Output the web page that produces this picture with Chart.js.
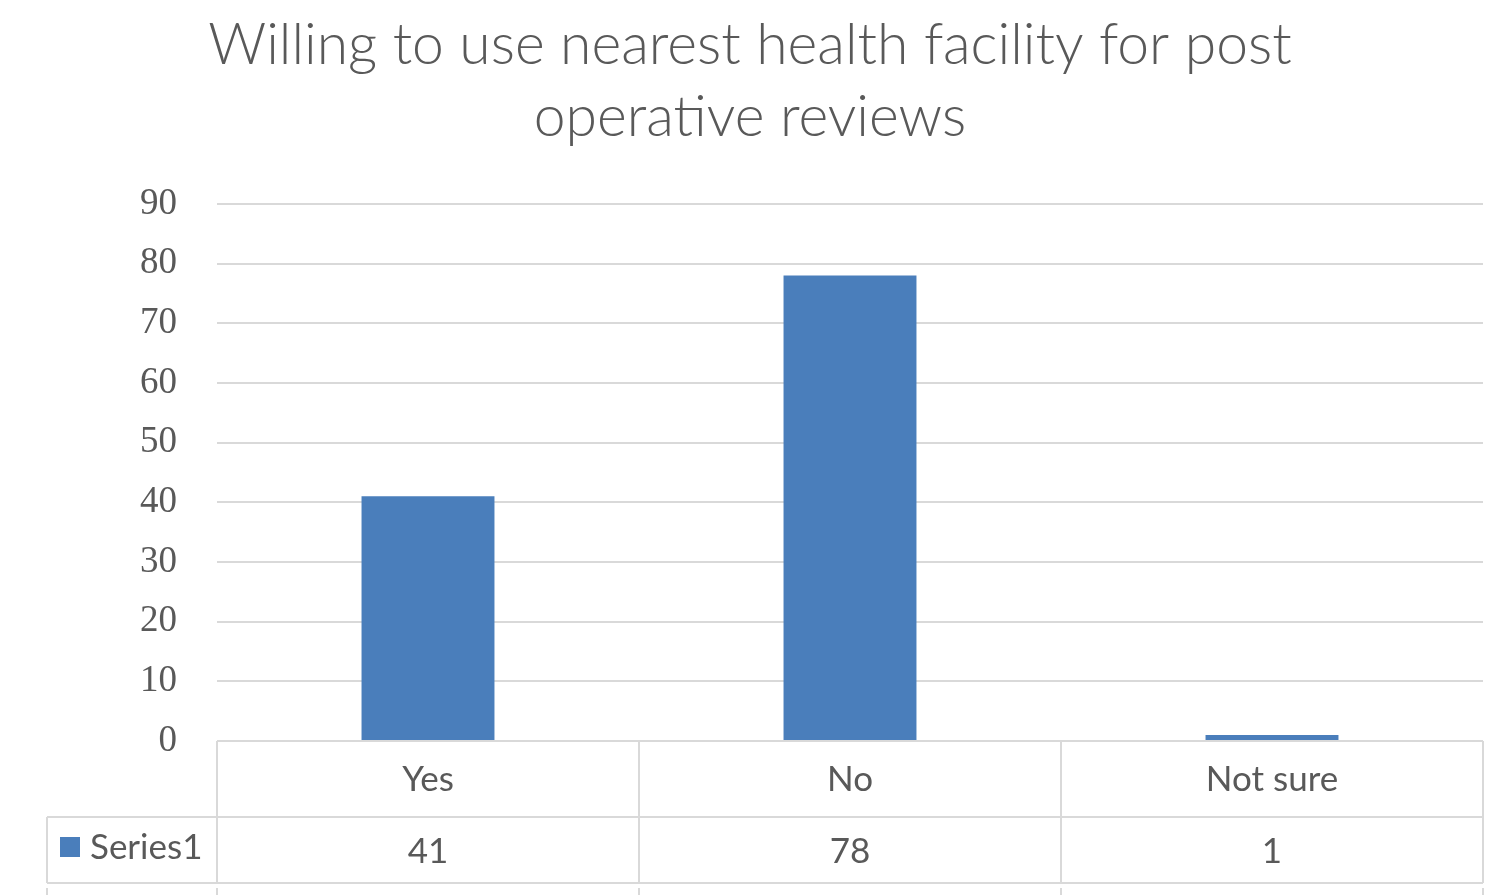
<!DOCTYPE html>
<html>
<head>
<meta charset="utf-8">
<script src="https://cdn.jsdelivr.net/npm/chart.js@4"></script>
<style>
  html, body { margin: 0; padding: 0; background: #ffffff; }
  canvas { display: block; }
</style>
</head>
<body>
<canvas id="chart" width="1500" height="895"></canvas>
<script>
const CATEGORIES = ['Yes', 'No', 'Not sure'];
const SERIES_NAME = 'Series1';
const SERIES_VALUES = [41, 78, 1];
const Y_TICKS = [0, 10, 20, 30, 40, 50, 60, 70, 80, 90];
const TITLE_LINES = ['Willing to use nearest health facility for post', 'operative reviews'];

const BAR_COLOR = '#4a7ebb';
const GRID_COLOR = '#d9d9d9';
const TEXT_COLOR = '#595959';
const SANS = 'Lato, "Open Sans", sans-serif';

// title is drawn by hand so it centres on the whole picture, not the chart box
const titlePlugin = {
    id: 'pageTitle',
    afterDraw(chart) {
        var ctx = chart.ctx;
        ctx.save();
        ctx.fillStyle = TEXT_COLOR;
        ctx.textAlign = 'center';
        ctx.textBaseline = 'middle';
        ctx.font = '300 57px ' + SANS;
        TITLE_LINES.forEach((line, i) => {
            ctx.fillText(line, 750, 46 + i * 72);
        });
        ctx.restore();
    }
};

// draws the data table under the plot, like the spreadsheet chart
const dataTablePlugin = {
    id: 'dataTable',
    afterDraw(chart) {
        var ctx = chart.ctx;
        var area = chart.chartArea;
        var xScale = chart.scales.x;
        var top = area.bottom;
        var mid = top + 76;
        var bottom = mid + 66;
        var left = 47;
        var step = xScale.getPixelForValue(1) - xScale.getPixelForValue(0);
        var edges = [area.left];
        CATEGORIES.forEach((c, i) => {
            edges.push(xScale.getPixelForValue(i) + step / 2);
        });
        edges[edges.length - 1] = area.right;

        ctx.save();
        ctx.strokeStyle = GRID_COLOR;
        ctx.lineWidth = 2;
        ctx.beginPath();
        ctx.moveTo(area.left, top); ctx.lineTo(area.right, top);
        ctx.moveTo(left, mid); ctx.lineTo(area.right, mid);
        ctx.moveTo(left, bottom); ctx.lineTo(area.right, bottom);
        edges.forEach(x => {
            ctx.moveTo(x, top); ctx.lineTo(x, bottom);
            ctx.moveTo(x, bottom + 5); ctx.lineTo(x, bottom + 12);
        });
        ctx.moveTo(left, mid); ctx.lineTo(left, bottom);
        ctx.moveTo(left, bottom + 5); ctx.lineTo(left, bottom + 12);
        ctx.stroke();

        ctx.fillStyle = TEXT_COLOR;
        ctx.textAlign = 'center';
        ctx.textBaseline = 'middle';
        ctx.font = '35px ' + SANS;
        CATEGORIES.forEach((c, i) => {
            var cx = xScale.getPixelForValue(i);
            ctx.fillText(c, cx, (top + mid) / 2 + 1);
            ctx.fillText(String(SERIES_VALUES[i]), cx, (mid + bottom) / 2 + 2);
        });

        ctx.fillStyle = BAR_COLOR;
        ctx.fillRect(60, 837, 20, 20);
        ctx.fillStyle = TEXT_COLOR;
        ctx.textAlign = 'left';
        ctx.fillText(SERIES_NAME, 90, (mid + bottom) / 2 - 2);
        ctx.restore();
    }
};

new Chart(document.getElementById('chart'), {
    type: 'bar',
    data: {
        labels: CATEGORIES,
        datasets: [{
            label: SERIES_NAME,
            data: SERIES_VALUES,
            backgroundColor: BAR_COLOR,
            borderWidth: 0,
            barPercentage: 0.315,
            categoryPercentage: 1
        }]
    },
    options: {
        responsive: false,
        animation: false,
        devicePixelRatio: 1,
        layout: {
            padding: { left: 0, right: 17, top: 204, bottom: 154 }
        },
        plugins: {
            legend: { display: false },
            tooltip: { enabled: false },
            title: { display: false }
        },
        scales: {
            x: {
                display: false
            },
            y: {
                min: 0,
                max: 90,
                afterBuildTicks(scale) {
                    scale.ticks = Y_TICKS.map(v => ({ value: v }));
                },
                afterFit(scale) {
                    scale.width = 217;
                },
                border: { display: false },
                grid: {
                    color: GRID_COLOR,
                    lineWidth: 2,
                    drawTicks: false
                },
                ticks: {
                    padding: 40,
                    color: TEXT_COLOR,
                    font: { family: '"Liberation Serif", serif', size: 37 }
                }
            }
        }
    },
    plugins: [dataTablePlugin, titlePlugin]
});
</script>
</body>
</html>
